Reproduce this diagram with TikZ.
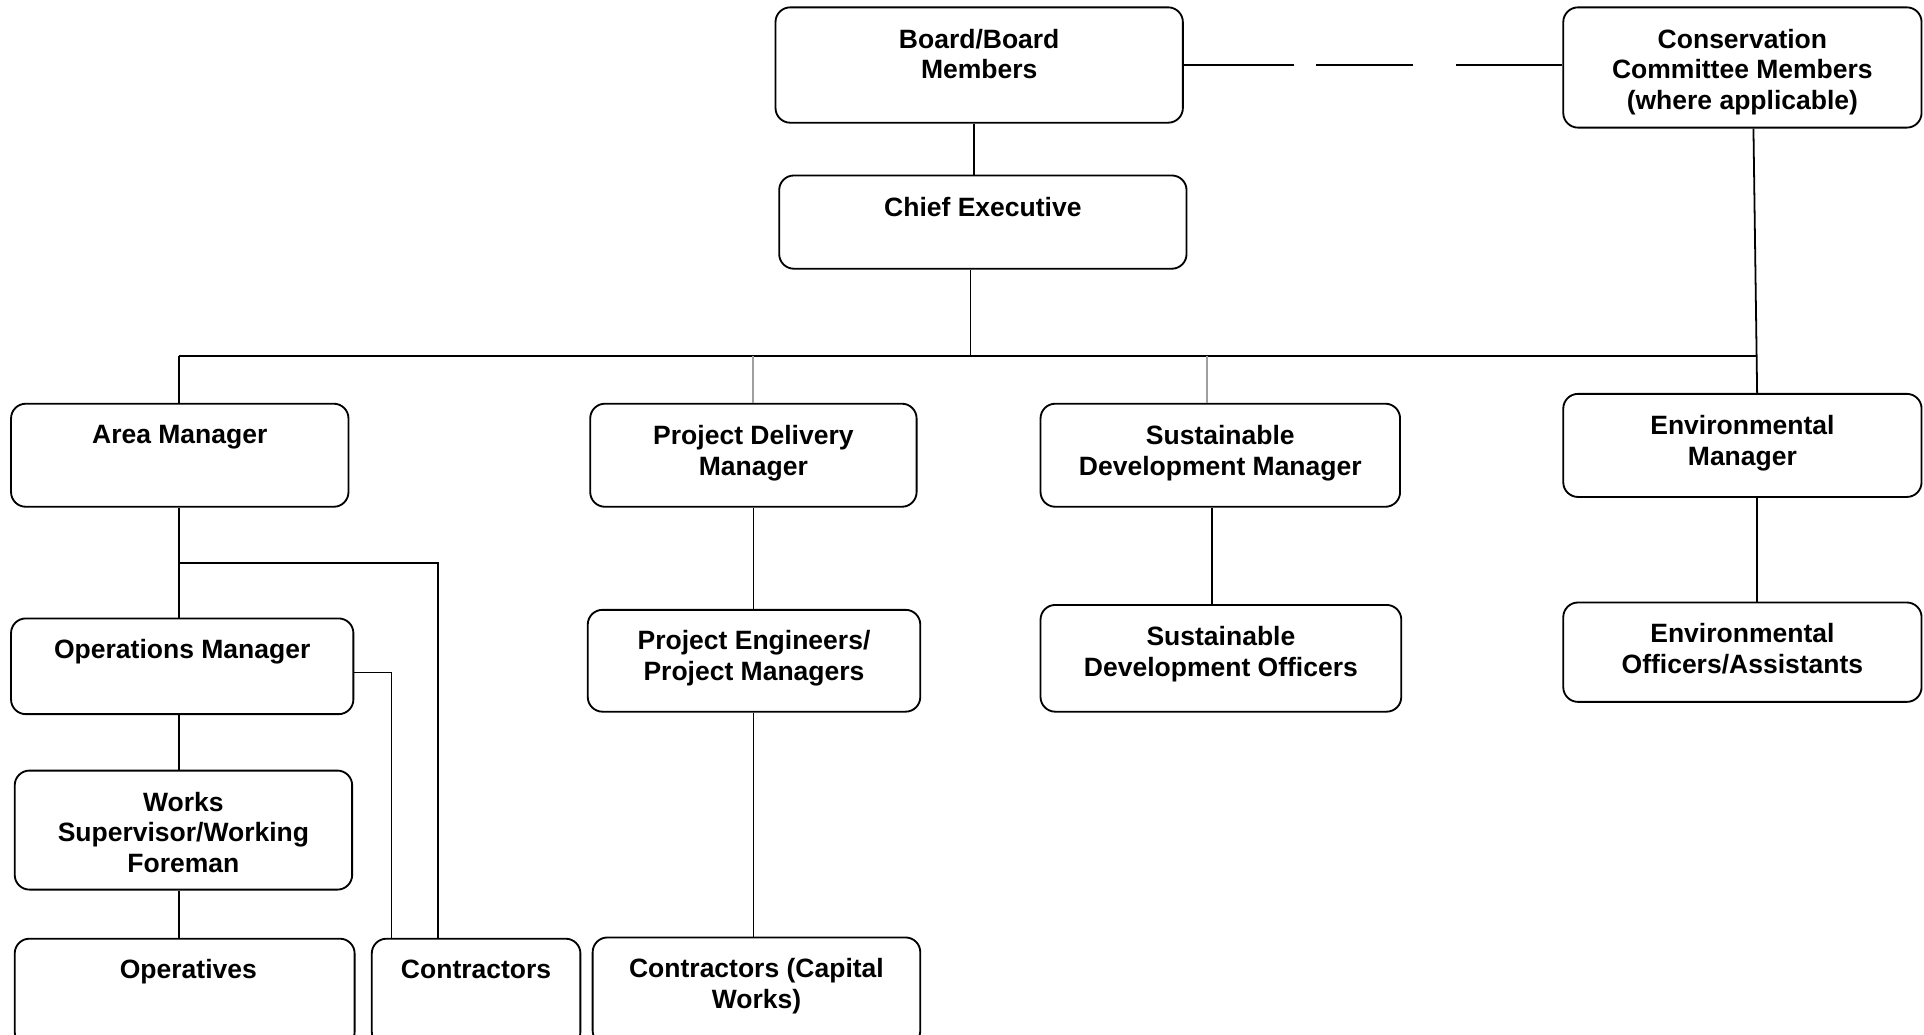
\documentclass[tikz,border=0pt]{standalone}
\usepackage{fontspec}
\setmainfont{Liberation Sans}
\usetikzlibrary{positioning}

\begin{document}
\begin{tikzpicture}[x=1pt,y=-1pt,line width=1.45pt,
  org node/.style={draw,rounded corners=12pt,line width=1.5pt,inner sep=0pt},
  org text/.style={anchor=north,inner sep=0pt,align=center,
    font=\bfseries\fontsize{21.6}{25}\selectfont},
  feed/.style={gray!75,line width=1.7pt}]
  \useasboundingbox (0,0) rectangle (1568,843);
  \clip (0,0) rectangle (1568,843);

  % boxes
  \node[org node,minimum width=332pt,minimum height=94pt] (board) at (798,53) {};
  \node[org node,minimum width=292pt,minimum height=98pt] (cons) at (1420,55) {};
  \node[org node,minimum width=332pt,minimum height=76pt] (chief) at (801,181) {};
  \node[org node,minimum width=275pt,minimum height=84pt] (area) at (146.5,371) {};
  \node[org node,minimum width=266pt,minimum height=84pt] (pdm) at (614,371) {};
  \node[org node,minimum width=293pt,minimum height=84pt] (sdm) at (994.5,371) {};
  \node[org node,minimum width=292pt,minimum height=84pt] (envm) at (1420,363) {};
  \node[org node,minimum width=279pt,minimum height=78pt] (ops) at (148.5,543) {};
  \node[org node,minimum width=271pt,minimum height=83pt] (pe) at (614.5,538.5) {};
  \node[org node,minimum width=294pt,minimum height=87pt] (sdo) at (995,536.5) {};
  \node[org node,minimum width=292pt,minimum height=81pt] (envo) at (1420,531.5) {};
  \node[org node,minimum width=275pt,minimum height=97pt] (works) at (149.5,676.5) {};
  \node[org node,minimum width=277pt,minimum height=88pt] (opv) at (150.5,809) {};
  \node[org node,minimum width=170pt,minimum height=88pt] (contr) at (388,809) {};
  \node[org node,minimum width=267pt,minimum height=88pt] (ccw) at (616.5,808) {};

  % labels
  \node[org text] (board-t) at ([yshift=-17.5pt]board.north) {Board/Board\\Members};
  \node[org text] (cons-t) at ([yshift=-17.5pt]cons.north) {Conservation\\Committee Members\\(where applicable)};
  \node[org text] (chief-t) at ([yshift=-17.5pt]chief.north) {Chief Executive};
  \node[org text] (area-t) at ([yshift=-17.5pt]area.north) {Area Manager};
  \node[org text] (pdm-t) at ([yshift=-17.5pt]pdm.north) {Project Delivery\\Manager};
  \node[org text] (sdm-t) at ([yshift=-17.5pt]sdm.north) {Sustainable\\Development Manager};
  \node[org text] (envm-t) at ([yshift=-17.5pt]envm.north) {Environmental\\Manager};
  \node[org text] (ops-t) at ([yshift=-17pt]ops.north) {Operations Manager};
  \node[org text] (pe-t) at ([yshift=-17pt]pe.north) {Project Engineers/\\Project Managers};
  \node[org text] (sdo-t) at ([yshift=-17.5pt]sdo.north) {Sustainable\\Development Officers};
  \node[org text] (envo-t) at ([yshift=-17pt]envo.north) {Environmental\\Officers/Assistants};
  \node[org text] (works-t) at ([yshift=-17.5pt]works.north) {Works\\Supervisor/Working\\Foreman};
  \node[org text] (opv-t) at ([xshift=3pt,yshift=-17pt]opv.north) {Operatives};
  \node[org text] (contr-t) at ([yshift=-17pt]contr.north) {Contractors};
  \node[org text] (ccw-t) at ([yshift=-17pt]ccw.north) {Contractors (Capital\\Works)};

  % lines
  \coordinate (busL) at (146,290);
  \coordinate (busR) at (1432,290);
  \coordinate (amj) at (146,459);

  \draw ([xshift=-4pt]board.south) -- ([xshift=-4pt]board.south |- chief.north);
  \draw[dash pattern=on 90pt off 18pt on 79pt off 35pt] (board.east) -- (board.east -| cons.west);
  \draw ([xshift=-10pt]chief.south) -- ([xshift=-10pt]chief.south |- busL);
  \draw (busL) -- (busR);
  \draw (busL) -- (busL |- area.north);
  \draw[feed] (pdm.north |- busL) -- (pdm.north);
  \draw[feed] ([xshift=-10.5pt]sdm.north |- busL) -- ([xshift=-10.5pt]sdm.north);
  \draw ([xshift=9pt]cons.south) -- ([xshift=12pt]envm.north);

  \draw (area.south -| busL) -- (ops.north -| busL);
  \draw (amj) -| ([xshift=-31pt]contr.north);
  \draw ([yshift=-5pt]ops.east) -| ([xshift=-69pt]contr.north);
  \draw (ops.south -| busL) -- (works.north -| busL);
  \draw (works.south -| busL) -- (opv.north -| busL);

  \draw (pdm.south) -- (pdm.south |- pe.north);
  \draw (pdm.south |- pe.south) -- (pdm.south |- ccw.north);
  \draw ([xshift=-6.5pt]sdm.south) -- ([xshift=-6.5pt]sdm.south |- sdo.north);
  \draw ([xshift=12pt]envm.south) -- ([xshift=12pt]envm.south |- envo.north);
\end{tikzpicture}
\end{document}
